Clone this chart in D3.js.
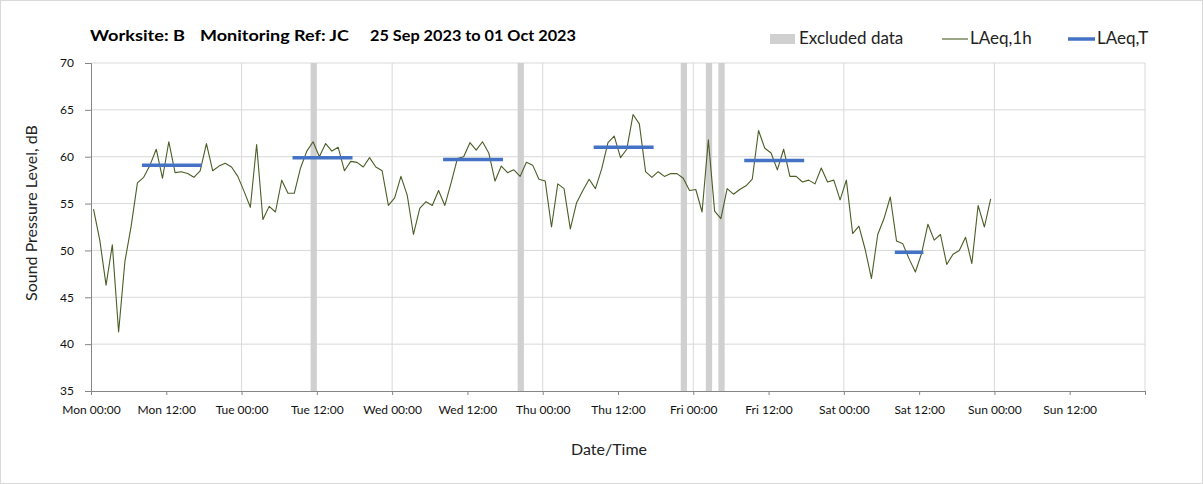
<!DOCTYPE html>
<html>
<head>
<meta charset="utf-8">
<script src="https://cdn.jsdelivr.net/npm/d3@7"></script>
<style>
  body { margin: 0; background: #fff; }
  svg { font-family: Lato, "Open Sans", sans-serif; }
</style>
</head>
<body>
<div id="chart"></div>
<script>
var width = 1203,
    height = 484;

// hourly LAeq,1h values, Mon 25 Sep 2023 00:00 onwards
var hourly = [
  54.4, 51.1, 46.3, 50.6, 41.3, 48.8, 52.6, 57.2, 57.8, 59.1,
  60.8, 57.7, 61.6, 58.3, 58.4, 58.2, 57.8, 58.5, 61.4, 58.5,
  59.0, 59.3, 58.9, 57.9, 56.3, 54.6, 61.3, 53.3, 54.7, 54.1,
  57.5, 56.1, 56.1, 58.8, 60.6, 61.6, 60.0, 61.4, 60.6, 61.0,
  58.5, 59.5, 59.4, 58.9, 59.9, 58.9, 58.5, 54.8, 55.6, 57.9,
  55.9, 51.7, 54.5, 55.2, 54.8, 56.4, 54.8, 57.2, 59.8, 60.0,
  61.5, 60.7, 61.6, 60.4, 57.4, 59.0, 58.3, 58.6, 57.9, 59.4,
  59.1, 57.6, 57.4, 52.5, 57.1, 56.6, 52.3, 55.1, 56.4, 57.6,
  56.6, 58.7, 61.5, 62.2, 59.9, 60.8, 64.5, 63.5, 58.4, 57.8,
  58.4, 57.9, 58.2, 58.2, 57.7, 56.4, 56.5, 54.1, 61.8, 54.2,
  53.4, 56.6, 56.0, 56.5, 56.9, 57.6, 62.8, 60.9, 60.4, 58.6,
  60.8, 57.9, 57.9, 57.3, 57.5, 57.1, 58.8, 57.3, 57.5, 55.4,
  57.5, 51.8, 52.6, 50.1, 47.0, 51.7, 53.4, 55.7, 51.0, 50.7,
  49.1, 47.7, 49.7, 52.8, 51.1, 51.7, 48.5, 49.6, 50.0, 51.4,
  48.6, 54.8, 52.5, 55.5
];
var startTime = "2023-09-25 00:00";
var axisEnd = "2023-10-02 00:00";

// LAeq,T working periods
var periodStart = ["2023-09-25 08:00", "2023-09-26 08:00", "2023-09-27 08:00", "2023-09-28 08:00", "2023-09-29 08:00", "2023-09-30 08:00"];
var periodEnd   = ["2023-09-25 18:00", "2023-09-26 18:00", "2023-09-27 18:00", "2023-09-28 18:00", "2023-09-29 18:00", "2023-09-30 13:00"];
var periodValue = [59.1, 59.9, 59.7, 61.0, 59.6, 49.8];

// excluded hours (start of hour)
var excluded = ["2023-09-26 11:00", "2023-09-27 20:00", "2023-09-28 22:00", "2023-09-29 02:00", "2023-09-29 04:00"];

var yTicks = [35, 40, 45, 50, 55, 60, 65, 70];

var parse = d3.timeParse("%Y-%m-%d %H:%M");
var HOUR = 3600000;
var t0 = parse(startTime);
var pointShift = 0.4 * HOUR; // hourly values drawn a little inside their hour

var margin = {top: 63, right: 58, bottom: 93, left: 91};

var svg = d3.select("#chart").append("svg")
    .attr("width", width)
    .attr("height", height);

svg.append("rect")
    .attr("x", 0.5).attr("y", 0.5)
    .attr("width", width - 1).attr("height", height - 1)
    .attr("fill", "#fff")
    .attr("stroke", "#d9d9d9");

var x = d3.scaleTime()
    .domain([t0, parse(axisEnd)])
    .range([margin.left, width - margin.right]);

var y = d3.scaleLinear()
    .domain([35, 70])
    .range([height - margin.bottom, margin.top]);

// gridlines
svg.append("g")
  .selectAll("line")
  .data(yTicks.slice(1))
  .join("line")
    .attr("x1", margin.left).attr("x2", width - margin.right)
    .attr("y1", d => y(d)).attr("y2", d => y(d))
    .attr("stroke", "#d9d9d9");

svg.append("g")
  .selectAll("line")
  .data(d3.timeDay.range(d3.timeDay.offset(t0, 1), d3.timeDay.offset(parse(axisEnd), 1)))
  .join("line")
    .attr("x1", d => x(d)).attr("x2", d => x(d))
    .attr("y1", margin.top).attr("y2", height - margin.bottom)
    .attr("stroke", "#d9d9d9");

// excluded data bars
svg.append("g")
  .selectAll("rect")
  .data(excluded.map(parse))
  .join("rect")
    .attr("x", d => x(d))
    .attr("width", d => x(new Date(+d + HOUR)) - x(d))
    .attr("y", margin.top)
    .attr("height", y(35) - margin.top)
    .attr("fill", "#d0d0d0");

// axes
var xAxis = g => g
    .attr("transform", `translate(0,${height - margin.bottom})`)
    .call(d3.axisBottom(x)
        .tickValues(d3.timeHour.every(12).range(t0, new Date(+parse(axisEnd) + 1)))
        .tickFormat(d3.timeFormat("%a %H:%M"))
        .tickSize(4).tickPadding(10))
    .call(g => g.selectAll(".domain, .tick line").attr("stroke", "#868686"))
    .call(g => g.selectAll(".tick text")
        .attr("font-size", "12px").attr("fill", "#111")
        .attr("font-family", "Lato, sans-serif")
        .filter(d => +d === +parse(axisEnd)).remove());

var yAxis = g => g
    .attr("transform", `translate(${margin.left},0)`)
    .call(d3.axisLeft(y).tickValues(yTicks).tickSize(6).tickPadding(11))
    .call(g => g.selectAll(".domain, .tick line").attr("stroke", "#868686"))
    .call(g => g.selectAll(".tick text")
        .attr("font-size", "12px").attr("fill", "#111")
        .attr("font-family", "Lato, sans-serif"));

svg.append("g").call(xAxis);
svg.append("g").call(yAxis);

// LAeq,1h line
var line = d3.line()
    .x((d, i) => x(new Date(+t0 + i * HOUR + pointShift)))
    .y(d => y(d));

svg.append("path")
    .datum(hourly)
    .attr("fill", "none")
    .attr("stroke", "#4a5e26")
    .attr("stroke-width", 1.1)
    .attr("stroke-linejoin", "round")
    .attr("d", line);

// LAeq,T segments
svg.append("g")
  .selectAll("line")
  .data(periodValue)
  .join("line")
    .attr("x1", (d, i) => x(new Date(+parse(periodStart[i]) + pointShift)))
    .attr("x2", (d, i) => x(new Date(+parse(periodEnd[i]) - HOUR + pointShift)))
    .attr("y1", d => y(d)).attr("y2", d => y(d))
    .attr("stroke", "#4472c4")
    .attr("stroke-width", 3.5)
    .attr("stroke-linecap", "square");

// title
var title = svg.append("g")
    .attr("font-weight", "bold")
    .attr("font-size", "16px")
    .attr("fill", "#000");
title.append("text").attr("x", 90).attr("y", 41)
    .attr("textLength", 95).attr("lengthAdjust", "spacingAndGlyphs").text("Worksite: B");
title.append("text").attr("x", 200).attr("y", 41)
    .attr("textLength", 149).attr("lengthAdjust", "spacingAndGlyphs").text("Monitoring Ref: JC");
title.append("text").attr("x", 370).attr("y", 41)
    .attr("textLength", 206).attr("lengthAdjust", "spacingAndGlyphs").text("25 Sep 2023 to 01 Oct 2023");

// legend
var legend = svg.append("g").attr("font-size", "17px").attr("fill", "#222");
legend.append("rect")
    .attr("x", 770).attr("y", 34).attr("width", 25).attr("height", 10)
    .attr("fill", "#d0d0d0");
legend.append("text").attr("x", 799).attr("y", 44).text("Excluded data");
legend.append("line")
    .attr("x1", 942).attr("x2", 968).attr("y1", 39).attr("y2", 39)
    .attr("stroke", "#4a5e26").attr("stroke-width", 1.1);
legend.append("text").attr("x", 970).attr("y", 44).text("LAeq,1h");
legend.append("line")
    .attr("x1", 1068).attr("x2", 1095).attr("y1", 39).attr("y2", 39)
    .attr("stroke", "#4472c4").attr("stroke-width", 3.5);
legend.append("text").attr("x", 1097).attr("y", 44).text("LAeq,T");

// axis titles
svg.append("text")
    .attr("text-anchor", "middle")
    .attr("font-size", "16px")
    .attr("fill", "#222")
    .attr("x", 609)
    .attr("y", 455)
    .text("Date/Time");

svg.append("text")
    .attr("text-anchor", "middle")
    .attr("font-size", "16px")
    .attr("fill", "#222")
    .attr("transform", "translate(37,213) rotate(-90)")
    .text("Sound Pressure Level, dB");
</script>
</body>
</html>
